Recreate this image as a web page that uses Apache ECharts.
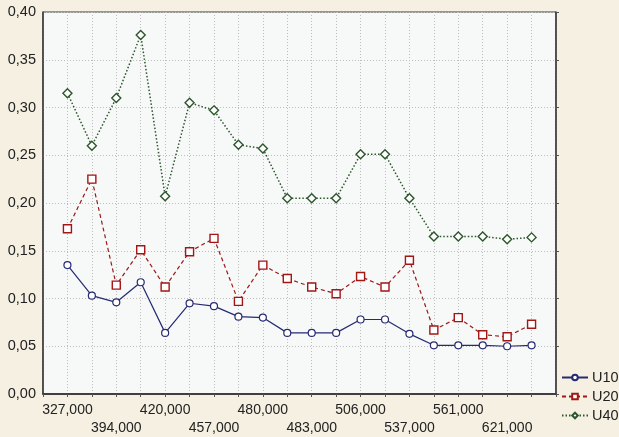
<!DOCTYPE html>
<html>
<head>
<meta charset="utf-8">
<script src="https://cdn.jsdelivr.net/npm/echarts@6/dist/echarts.min.js"></script>
<style>
  html, body { margin: 0; padding: 0; background: #f5f0e2; }
  #chart { width: 619px; height: 437px; }
</style>
</head>
<body>
<div id="chart"></div>
<script>
// Sample loads along the x axis (every second one is labelled)
const categories = [
  '327,000', '360,000', '394,000', '407,000', '420,000', '440,000', '457,000',
  '470,000', '480,000', '481,000', '483,000', '495,000', '506,000', '520,000',
  '537,000', '550,000', '561,000', '590,000', '621,000', '650,000'
];

const u10 = [0.135, 0.103, 0.096, 0.117, 0.064, 0.095, 0.092, 0.081, 0.080, 0.064,
             0.064, 0.064, 0.078, 0.078, 0.063, 0.051, 0.051, 0.051, 0.050, 0.051];
const u20 = [0.173, 0.225, 0.114, 0.151, 0.112, 0.149, 0.163, 0.097, 0.135, 0.121,
             0.112, 0.105, 0.123, 0.112, 0.140, 0.067, 0.080, 0.062, 0.060, 0.073];
const u40 = [0.315, 0.260, 0.310, 0.376, 0.207, 0.305, 0.297, 0.261, 0.257, 0.205,
             0.205, 0.205, 0.251, 0.251, 0.205, 0.165, 0.165, 0.165, 0.162, 0.164];

const yTicks = { min: 0, max: 0.4, step: 0.05 };

// empty slots at both ends keep the first and last point one step off the frame
const axisCats = [''].concat(categories, ['']);
const pad = arr => [null].concat(arr, [null]);

const chart = echarts.init(document.getElementById('chart'));
const font = 'Liberation Sans, Arial, sans-serif';

chart.setOption({
  backgroundColor: '#f5f0e2',
  animation: false,
  textStyle: { fontFamily: font },
  grid: {
    left: 43, top: 12, right: 63, bottom: 42,
    show: true, backgroundColor: '#f7f8f8', borderColor: '#3a3a3a', borderWidth: 1
  },
  legend: {
    orient: 'vertical', left: 561, top: 370, itemWidth: 26, itemHeight: 7,
    itemGap: 4, padding: [0, 0, 0, 0],
    textStyle: { fontFamily: font, fontSize: 14.5, color: '#222', padding: [0, 0, 0, -1] },
    data: ['U10', 'U20', 'U40']
  },
  xAxis: [{
    type: 'category', data: axisCats, boundaryGap: false,
    axisLine: { lineStyle: { color: '#3a3a3a', width: 1.5 } },
    axisTick: { show: false },
    splitLine: { show: true, lineStyle: { color: '#bdbdbd', type: [1, 2] } },
    axisLabel: {
      interval: 0, margin: 7, color: '#222', fontSize: 14, fontFamily: font,
      lineHeight: 18,
      formatter: (v, i) => {
        const j = i - 1;
        if (j < 0 || j >= categories.length || j % 2) return '';
        return (j / 2) % 2 ? '\n' + v : v;
      }
    }
  }, {
    type: 'category', data: axisCats, boundaryGap: false, position: 'top',
    axisLine: { lineStyle: { color: '#3a3a3a', width: 1.5 } },
    axisTick: { show: true, inside: true, length: 3, interval: 0, lineStyle: { color: '#555' } },
    axisLabel: { show: false }
  }],
  yAxis: [{
    type: 'value', min: yTicks.min, max: yTicks.max, interval: yTicks.step,
    axisLine: { show: true, lineStyle: { color: '#3a3a3a', width: 1.5 } },
    axisTick: { show: false },
    splitLine: { show: true, lineStyle: { color: '#bdbdbd', type: [1, 2] } },
    axisLabel: {
      margin: 7, color: '#222', fontSize: 14.5, fontFamily: font,
      formatter: v => v.toFixed(2).replace('.', ',')
    }
  }, {
    type: 'value', min: yTicks.min, max: yTicks.max, interval: yTicks.step, position: 'right',
    axisLine: { show: true, lineStyle: { color: '#3a3a3a', width: 1.5 } },
    axisTick: { show: true, length: 3, lineStyle: { color: '#555' } },
    splitLine: { show: false },
    axisLabel: { show: false }
  }],
  series: [{
    name: 'U10', type: 'line', data: pad(u10),
    symbol: 'circle', symbolSize: 7,
    lineStyle: { color: '#262a72', width: 1.2 },
    itemStyle: { color: '#ffffff', borderColor: '#262a72', borderWidth: 1.2 }
  }, {
    name: 'U20', type: 'line', data: pad(u20),
    symbol: 'rect', symbolSize: 8,
    lineStyle: { color: '#9a1a1a', width: 1.2, type: [4, 3] },
    itemStyle: { color: '#ffffff', borderColor: '#a31616', borderWidth: 1.4 }
  }, {
    name: 'U40', type: 'line', data: pad(u40),
    symbol: 'diamond', symbolSize: 9,
    lineStyle: { color: '#2c562c', width: 1.5, type: [1.5, 2] },
    itemStyle: { color: '#ffffff', borderColor: '#2c562c', borderWidth: 1.4 }
  }]
});
</script>
</body>
</html>
